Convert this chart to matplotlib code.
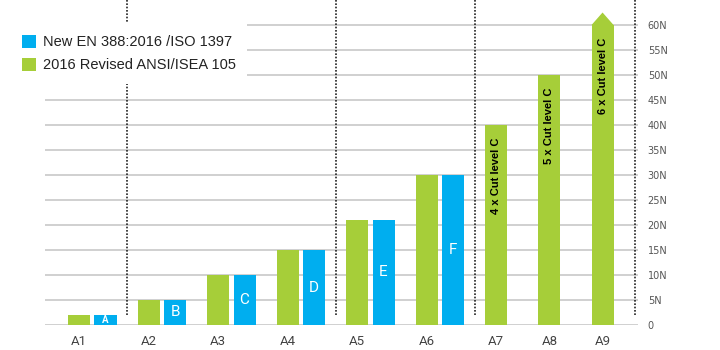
import numpy as np
import matplotlib
matplotlib.use("Agg")
import matplotlib.pyplot as plt
from matplotlib.patches import Patch

# ---- data ----
categories = ["A1", "A2", "A3", "A4", "A5", "A6", "A7", "A8", "A9"]
ansi_values = [2, 5, 10, 15, 21, 30, 40, 50, 60]          # green (all 9)
en_values = [2, 5, 10, 15, 21, 30]                          # blue (A1..A6)
en_letters = ["A", "B", "C", "D", "E", "F"]
multi_labels = ["4 x Cut level C", "5 x Cut level C", "6 x Cut level C"]
yticks = [0, 5, 10, 15, 20, 25, 30, 35, 40, 45, 50, 55, 60]
ytick_labels = ["0"] + [f"{v}N" for v in yticks[1:]]
legend_labels = ["New EN 388:2016 /ISO 1397", "2016 Revised ANSI/ISEA 105"]

GREEN = "#a6ce39"
BLUE = "#00aeef"

# ---- layout ----
n_pairs = len(en_values)
n_single = len(categories) - n_pairs
single_step = 0.765
pos_green = np.concatenate([np.arange(n_pairs), n_pairs + single_step * np.arange(n_single)])
blue_offset = 0.38
bar_w = 0.317
pos_blue = pos_green[:n_pairs] + blue_offset

fig = plt.figure(figsize=(7.2, 3.5), dpi=100)
ax = fig.add_axes([45 / 720, 25 / 350, (638 - 45) / 720, 325 / 350])
ax.set_xlim(-0.49, 8.04)
ax.set_ylim(0, 65)

# grid
ax.set_yticks(yticks)
ax.set_yticklabels(ytick_labels)
ax.yaxis.grid(True, color="#c8c8c8", linewidth=1.2, zorder=0)
ax.set_axisbelow(True)
for s in ax.spines.values():
    s.set_visible(False)
ax.yaxis.tick_right()
ax.tick_params(axis="y", length=0, pad=7, labelsize=7, labelcolor="#555555")
ax.tick_params(axis="x", length=0, pad=7, labelsize=9.5, labelcolor="#444444")
for lab in ax.get_yticklabels():
    lab.set_fontfamily("DejaVu Sans")
ax.set_xticks(pos_green)
ax.set_xticklabels(categories, fontfamily="Roboto")

# bars
ax.bar(pos_green, ansi_values, width=bar_w, color=GREEN, zorder=2, linewidth=0)
ax.bar(pos_blue, en_values, width=bar_w, color=BLUE, zorder=2, linewidth=0)

# arrow head on last bar
last_x = pos_green[-1]
last_v = ansi_values[-1]
head = 2.5
ax.fill([last_x - bar_w / 2, last_x, last_x + bar_w / 2],
        [last_v, last_v + head, last_v], color=GREEN, zorder=2, linewidth=0)

# letters in blue bars
for x, v, t in zip(pos_blue, en_values, en_letters):
    if v < 4:
        ax.text(x, v / 2, t, ha="center", va="center", color="white",
                fontsize=7, fontweight="bold", fontfamily="Roboto", zorder=4)
    else:
        ax.text(x, v / 2, t, ha="center", va="center", color="white",
                fontsize=11, fontfamily="Roboto", zorder=4)

# rotated labels in single bars
for x, v, t in zip(pos_green[n_pairs:], ansi_values[n_pairs:], multi_labels):
    ax.text(x, v - 2.6, t, rotation=90, ha="center", va="top", color="black",
            fontsize=8, fontweight="bold", fontfamily="Liberation Sans", zorder=4)

# dotted separators
seps = []
for i in [0, 3, 5]:
    right_edge = pos_blue[i] + bar_w / 2
    left_next = pos_green[i + 1] - bar_w / 2
    seps.append((right_edge + left_next) / 2)
seps.append(ax.get_xlim()[1] - 0.05)
ax.vlines(seps, 2, 65, colors="#222222", linestyles=(0, (1, 1)), linewidth=1.2, zorder=3)

# legend
handles = [Patch(facecolor=BLUE, edgecolor="none"), Patch(facecolor=GREEN, edgecolor="none")]
leg = ax.legend(handles, legend_labels, loc="upper left",
                bbox_to_anchor=(10 / 720, 1 - 23 / 350), bbox_transform=fig.transFigure,
                borderaxespad=0, borderpad=0.8, frameon=True, fancybox=False,
                facecolor="white", edgecolor="none", framealpha=1,
                handlelength=1.0, handleheight=1.0, handletextpad=0.45,
                labelspacing=0.6, prop={"family": "Liberation Sans", "size": 10.5})
for t in leg.get_texts():
    t.set_color("#222222")
leg.set_zorder(10)

fig.savefig("out.png", dpi=100)
